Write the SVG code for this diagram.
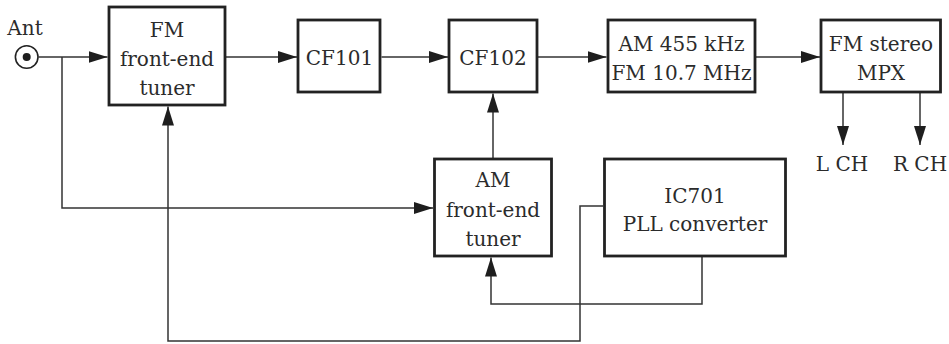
<svg xmlns="http://www.w3.org/2000/svg" width="949" height="344" viewBox="0 0 949 344">
<style>
.box{fill:#fff;stroke:#222;stroke-width:2.8}
.lbl{font-family:"DejaVu Serif","Liberation Serif",serif;font-size:20px;fill:#2b2b2b;text-anchor:middle}
.wire{fill:none;stroke:#333;stroke-width:1.5}
</style>
<defs>
<marker id="arr" markerUnits="userSpaceOnUse" markerWidth="19" markerHeight="12" refX="19" refY="6" orient="auto">
<path d="M0,0 L19,6 L0,12 z" fill="#1e1e1e"/>
</marker>
</defs>
<rect width="949" height="344" fill="#fff"/>
<g id="connectors">
<line class="wire" x1="38.5" y1="57" x2="107.5" y2="57" marker-end="url(#arr)"/>
<line class="wire" x1="226" y1="57" x2="297" y2="57" marker-end="url(#arr)"/>
<line class="wire" x1="381.5" y1="57" x2="448" y2="57" marker-end="url(#arr)"/>
<line class="wire" x1="538" y1="57" x2="606.5" y2="57" marker-end="url(#arr)"/>
<line class="wire" x1="756" y1="57" x2="820" y2="57" marker-end="url(#arr)"/>
<line class="wire" x1="843" y1="93" x2="843" y2="145" marker-end="url(#arr)"/>
<line class="wire" x1="920" y1="93" x2="920" y2="145" marker-end="url(#arr)"/>
<line class="wire" x1="493" y1="158" x2="493" y2="93.5" marker-end="url(#arr)"/>
<polyline class="wire" points="62,57 62,208 433,208" marker-end="url(#arr)"/>
<polyline class="wire" points="702,257 702,304 491,304 491,257.5" marker-end="url(#arr)"/>
<polyline class="wire" points="603,206 580,206 580,341 168,341 168,106.5" marker-end="url(#arr)"/>
</g>
<g id="ant">
<text class="lbl" x="25" y="35">Ant</text>
<circle cx="26.7" cy="57" r="11.3" fill="#fff" stroke="#222" stroke-width="1.6"/>
<circle cx="26.7" cy="57" r="4" fill="#1e1e1e"/>
</g>
<g id="fm-tuner">
<rect class="box" x="109" y="7" width="116" height="98"/>
<text class="lbl" x="167" y="36.5">FM</text>
<text class="lbl" x="167" y="65.5">front-end</text>
<text class="lbl" x="167" y="94.5">tuner</text>
</g>
<g id="cf101">
<rect class="box" x="298" y="20" width="82" height="72"/>
<text class="lbl" x="339.5" y="65">CF101</text>
</g>
<g id="cf102">
<rect class="box" x="449" y="20" width="88" height="72"/>
<text class="lbl" x="493" y="65">CF102</text>
</g>
<g id="if-filter">
<rect class="box" x="608" y="20" width="147" height="72"/>
<text class="lbl" x="681.5" y="50.5">AM 455 kHz</text>
<text class="lbl" x="681.5" y="79.5">FM 10.7 MHz</text>
</g>
<g id="mpx">
<rect class="box" x="821" y="20" width="119.5" height="72"/>
<text class="lbl" x="881" y="50.5">FM stereo</text>
<text class="lbl" x="881" y="79.5">MPX</text>
</g>
<g id="lch"><text class="lbl" x="842" y="170.5">L CH</text></g>
<g id="rch"><text class="lbl" x="920" y="170.5">R CH</text></g>
<g id="am-tuner">
<rect class="box" x="434.5" y="159" width="117" height="97"/>
<text class="lbl" x="493" y="187">AM</text>
<text class="lbl" x="493" y="216.5">front-end</text>
<text class="lbl" x="493" y="246">tuner</text>
</g>
<g id="ic701">
<rect class="box" x="604.5" y="159" width="181" height="97"/>
<text class="lbl" x="695" y="202.5">IC701</text>
<text class="lbl" x="695" y="230.5">PLL converter</text>
</g>
</svg>
